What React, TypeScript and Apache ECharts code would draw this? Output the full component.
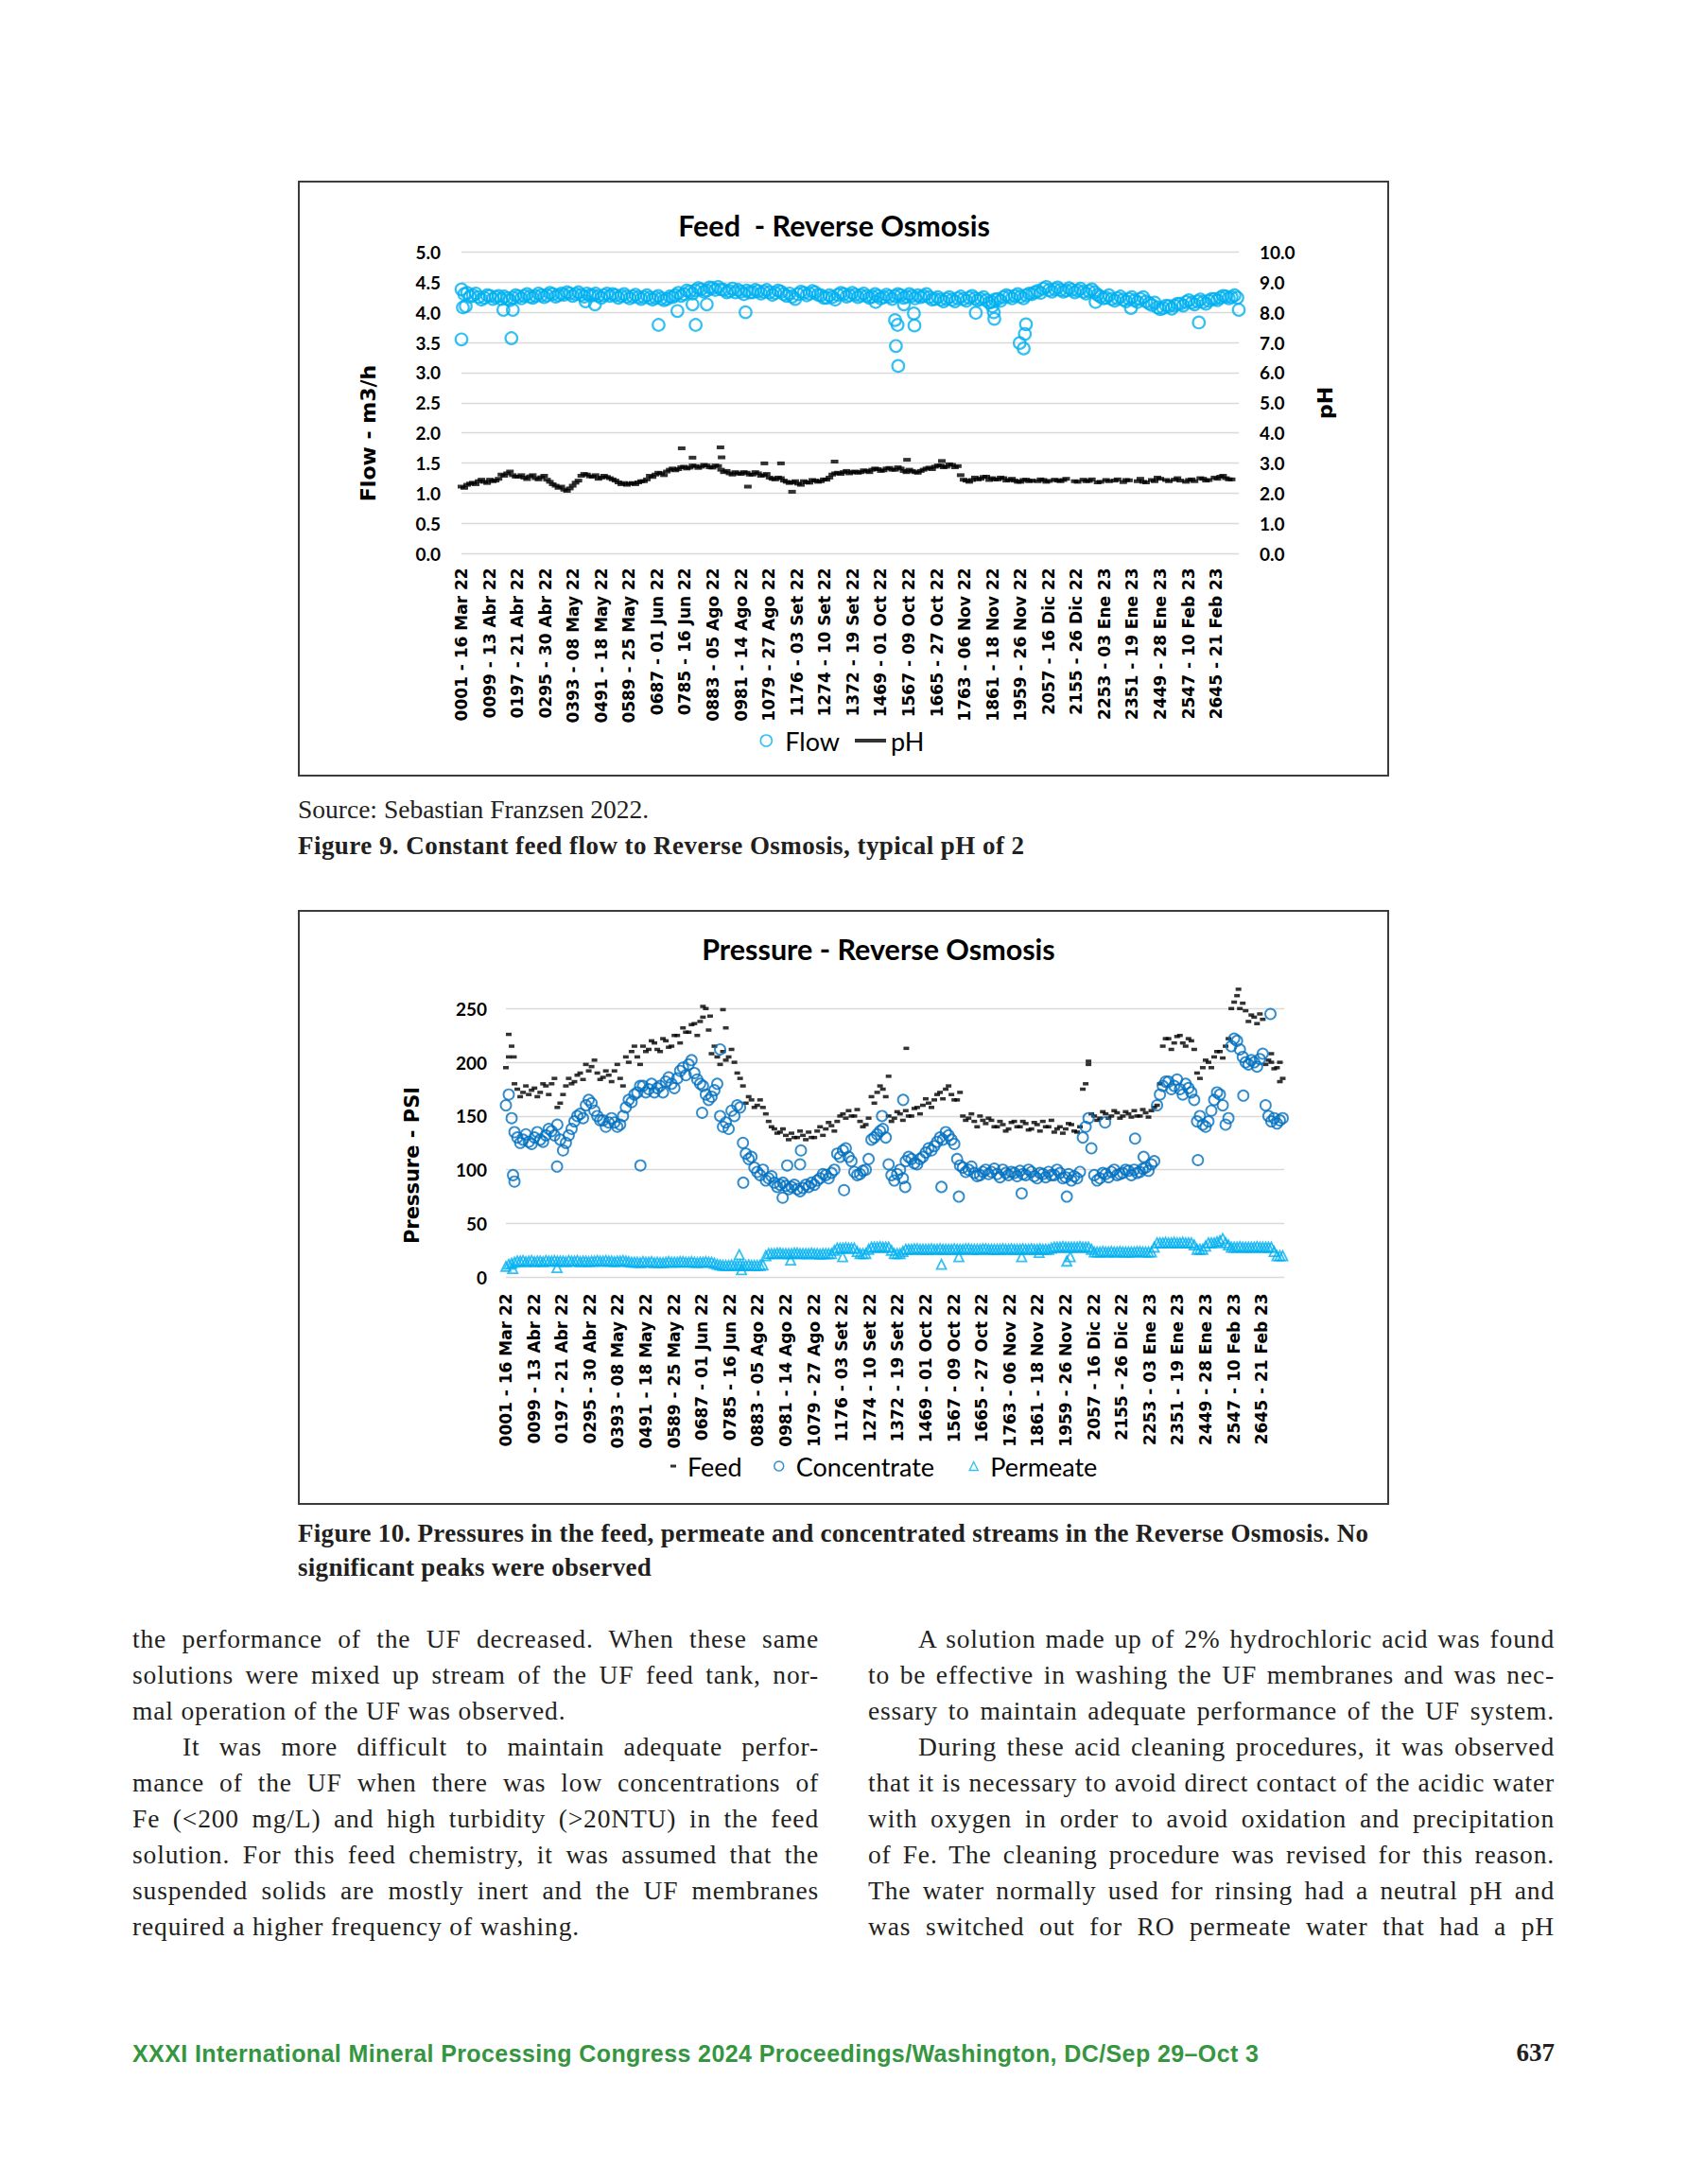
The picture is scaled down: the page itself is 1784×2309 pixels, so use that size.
import React, { useEffect, useRef } from 'react';
import * as echarts from 'echarts';

// ---------- DATA ----------
const X_LABELS = [
  '0001 - 16 Mar 22', '0099 - 13 Abr 22', '0197 - 21 Abr 22', '0295 - 30 Abr 22',
  '0393 - 08 May 22', '0491 - 18 May 22', '0589 - 25 May 22', '0687 - 01 Jun 22',
  '0785 - 16 Jun 22', '0883 - 05 Ago 22', '0981 - 14 Ago 22', '1079 - 27 Ago 22',
  '1176 - 03 Set 22', '1274 - 10 Set 22', '1372 - 19 Set 22', '1469 - 01 Oct 22',
  '1567 - 09 Oct 22', '1665 - 27 Oct 22', '1763 - 06 Nov 22', '1861 - 18 Nov 22',
  '1959 - 26 Nov 22', '2057 - 16 Dic 22', '2155 - 26 Dic 22', '2253 - 03 Ene 23',
  '2351 - 19 Ene 23', '2449 - 28 Ene 23', '2547 - 10 Feb 23', '2645 - 21 Feb 23',
];
const TICK = 98;     // records between labelled categories
const STEP = 20;     // records between sampled readings below
const XMAX = 2725;   // last record index

// Figure 9 – feed flow (m3/h): readings at records 0,20,40,... (A) and 10,30,50,... (B)
const flowA = [
  4.38, 4.32, 4.28, 4.25, 4.24, 4.27, 4.25, 4.22, 4.23, 4.24,
  4.26, 4.27, 4.26, 4.27, 4.28, 4.28, 4.30, 4.28, 4.29, 4.31,
  4.30, 4.29, 4.31, 4.28, 4.27, 4.28, 4.27, 4.28, 4.27, 4.26,
  4.26, 4.25, 4.25, 4.24, 4.24, 4.23, 4.22, 4.25, 4.32, 4.30,
  4.34, 4.36, 4.38, 4.36, 4.40, 4.42, 4.37, 4.35, 4.33, 4.34,
  4.36, 4.33, 4.35, 4.34, 4.33, 4.32, 4.34, 4.27, 4.26, 4.30,
  4.32, 4.31, 4.33, 4.28, 4.24, 4.25, 4.29, 4.30, 4.28, 4.29,
  4.28, 4.27, 4.26, 4.27, 4.25, 4.26, 4.27, 4.28, 4.26, 4.27,
  4.28, 4.27, 4.25, 4.22, 4.21, 4.22, 4.21, 4.23, 4.22, 4.24,
  4.23, 4.22, 4.20, 4.17, 4.22, 4.25, 4.26, 4.27, 4.26, 4.28,
  4.30, 4.35, 4.39, 4.37, 4.38, 4.37, 4.36, 4.37, 4.36, 4.34,
  4.35, 4.33, 4.26, 4.24, 4.22, 4.23, 4.21, 4.22, 4.20, 4.22,
  4.18, 4.12, 4.08, 4.07, 4.10, 4.11, 4.14, 4.17, 4.16, 4.18,
  4.17, 4.19, 4.22, 4.24, 4.26, 4.25, 4.24,
];
const flowB = [
  4.30, 4.26, 4.31, 4.21, 4.28, 4.22, 4.27, 4.26, 4.20, 4.28,
  4.23, 4.30, 4.24, 4.31, 4.25, 4.32, 4.26, 4.31, 4.33, 4.27,
  4.33, 4.26, 4.28, 4.31, 4.24, 4.31, 4.30, 4.24, 4.30, 4.23,
  4.29, 4.22, 4.28, 4.21, 4.27, 4.20, 4.26, 4.28, 4.27, 4.36,
  4.31, 4.40, 4.34, 4.41, 4.37, 4.38, 4.33, 4.39, 4.37, 4.30,
  4.33, 4.37, 4.31, 4.37, 4.29, 4.36, 4.30, 4.31, 4.22, 4.34,
  4.28, 4.35, 4.29, 4.24, 4.28, 4.21, 4.32, 4.26, 4.32, 4.25,
  4.31, 4.24, 4.30, 4.23, 4.29, 4.22, 4.30, 4.24, 4.30, 4.23,
  4.25, 4.30, 4.21, 4.25, 4.18, 4.25, 4.18, 4.26, 4.19, 4.27,
  4.20, 4.25, 4.16, 4.21, 4.19, 4.28, 4.23, 4.30, 4.23, 4.31,
  4.33, 4.32, 4.42, 4.34, 4.41, 4.34, 4.40, 4.33, 4.39, 4.31,
  4.38, 4.29, 4.23, 4.28, 4.19, 4.26, 4.18, 4.25, 4.17, 4.25,
  4.15, 4.16, 4.05, 4.11, 4.06, 4.14, 4.11, 4.20, 4.13, 4.21,
  4.14, 4.22, 4.20, 4.27, 4.23, 4.28, null,
];
// isolated flow readings [record, value]
const flowOutliers = [
  [0, 3.55], [5, 4.08], [15, 4.1], [147, 4.04], [175, 3.57], [180, 4.04], [435, 4.18],
  [468, 4.13], [691, 3.79], [757, 4.02], [810, 4.13], [821, 3.79], [860, 4.13], [996, 4.0],
  [1452, 4.17], [1520, 3.87], [1523, 3.44], [1529, 3.79], [1531, 3.11], [1551, 4.13],
  [1586, 3.98], [1588, 3.78], [1803, 3.99], [1861, 4.1], [1866, 4.0], [1868, 3.89],
  [1957, 3.49], [1971, 3.4], [1975, 3.64], [1979, 3.8], [2223, 4.17], [2347, 4.07],
  [2585, 3.83], [2725, 4.04],
];
// Figure 9 – pH (null = no reading)
const phA = [
  2.22, 2.28, 2.35, 2.40, 2.38, 2.45, 2.42, 2.62, 2.66, 2.60,
  2.55, 2.52, 2.56, 2.50, 2.53, 2.45, 2.30, 2.18, 2.12, 2.16,
  2.35, 2.58, 2.62, 2.55, 2.48, 2.58, 2.50, 2.42, 2.30, 2.28,
  2.34, 2.36, 2.40, 2.58, 2.62, 2.66, 2.72, 2.82, 2.80, 2.88,
  2.85, 2.90, 2.88, 2.92, 2.85, 2.90, 2.70, 2.66, 2.70, 2.64,
  2.68, 2.62, 2.66, 2.60, 2.52, 2.46, 2.50, 2.38, 2.36, 2.32,
  2.40, 2.35, 2.42, 2.40, 2.45, 2.62, 2.68, 2.70, 2.66, 2.72,
  2.70, 2.74, 2.78, 2.80, 2.76, 2.84, 2.78, 2.82, 2.70, 2.74,
  2.68, 2.78, 2.85, 2.88, 2.92, 2.88, 2.94, 2.90, 2.45, 2.38,
  2.52, 2.48, 2.55, 2.50, 2.46, 2.50, 2.44, 2.42, 2.38, 2.45,
  2.42, 2.40, 2.44, 2.41, 2.45, 2.40, 2.48, null, 2.38, 2.45,
  2.41, null, 2.38, 2.44, null, 2.46, 2.37, 2.43, null, 2.48,
  2.36, 2.44, 2.52, null, 2.40, 2.45, 2.42, 2.38, 2.46, null,
  2.48, 2.44, 2.52, 2.55, 2.50, 2.46, null,
];
const phB = [
  2.18, 2.32, 2.30, 2.45, 2.34, 2.40, 2.48, 2.58, 2.72, 2.55,
  2.60, 2.47, 2.60, 2.46, 2.58, 2.38, 2.25, 2.22, 2.08, 2.25,
  2.42, 2.64, 2.56, 2.60, 2.52, 2.54, 2.46, 2.36, 2.34, 2.32,
  2.30, 2.40, 2.46, 2.54, 2.68, 2.60, 2.78, 2.76, 2.86, 2.82,
  2.92, 2.84, 2.94, 2.86, 2.92, 2.78, 2.74, 2.62, 2.66, 2.70,
  2.62, 2.70, 2.58, 2.64, 2.48, 2.52, 2.42, 2.34, 2.40, 2.28,
  2.36, 2.44, 2.38, 2.46, 2.52, 2.66, 2.64, 2.74, 2.70, 2.68,
  2.76, 2.70, 2.82, 2.74, 2.82, 2.78, 2.86, 2.74, 2.78, 2.70,
  2.74, 2.82, 2.80, 2.92, 2.86, 2.96, 2.86, 2.60, 2.42, 2.44,
  2.46, 2.54, 2.44, 2.46, 2.52, 2.42, 2.48, 2.38, 2.44, 2.40,
  null, 2.46, 2.38, null, 2.42, 2.44, null, 2.40, null, 2.40,
  2.46, 2.36, null, 2.40, 2.42, null, 2.44, null, 2.40, 2.38,
  null, 2.40, 2.48, 2.44, null, 2.50, null, 2.44, 2.40, 2.50,
  2.42, null, 2.48, 2.58, 2.46, null, null,
];
const phOutliers = [
  [772, 3.49], [810, 3.18], [908, 3.52], [912, 3.19], [1004, 2.22], [1062, 2.99],
  [1120, 2.99], [1159, 2.05], [1308, 3.05], [1562, 3.11], [1684, 3.07],
];

// Figure 10 – pressures (PSI)
const feedA = [
  195, 215, 175, 172, 170, 176, 172, 178, 180, 158,
  170, 185, 182, 190, 198, 196, 190, 186, 188, 192,
  185, 205, 210, 205, 215, 212, 218, 210, 220, 215,
  225, 232, 228, 236, 238, 250, 208, 205, 210, 205,
  200, 185, 162, 165, 160, 158, 145, 138, 135, 132,
  134, 130, 132, 135, 130, 140, 138, 141, 145, 152,
  155, 150, 145, 142, 168, 172, 175, 150, 148, 152,
  155, 150, 158, 160, 162, 165, 172, 175, 170, 165,
  150, 148, 145, 150, 143, 146, 140, 142, 138, 145,
  140, 143, 138, 142, 145, 140, 135, 140, 138, 142,
  135, 175, 198, 150, 148, 152, 150, 153, 150, 152,
  155, 150, 153, 155, 160, 215, 222, 218, 225, 215,
  220, 190, 195, 200, 205, 210, 215, 250, 262, 255,
  238, 242, 245, 198, 200, 195, 185,
];
const feedB = [
  205, 180, 168, 178, 174, 168, 180, 170, 185, 162,
  178, 180, 188, 184, 192, 202, 184, 192, 182, 198,
  178, 200, 215, 198, 210, 220, 212, 222, 214, 225,
  218, 228, 235, 225, 242, 230, 215, 198, 202, 212,
  190, 178, 168, 158, 165, 152, 140, 134, 138, 128,
  130, 136, 128, 130, 136, 132, 144, 136, 150, 148,
  150, 156, 140, 148, 162, 178, 168, 145, 154, 146,
  150, 157, 152, 166, 158, 170, 166, 178, 165, 172,
  146, 152, 140, 146, 148, 140, 145, 136, 144, 140,
  145, 137, 144, 136, 140, 146, 138, 134, 143, 136,
  140, 180, 152, 146, 154, 148, 155, 148, 154, 149,
  150, 156, 149, 158, 180, 222, 212, 224, 218, 222,
  212, 185, 202, 195, 210, 204, 222, 256, 250, 248,
  244, 236, 240, 202, 194, 200, 180,
];
const feedOutliers = [
  [10, 226], [28, 205], [690, 252], [715, 243], [760, 249], [770, 232], [1340, 187],
  [1402, 213], [2040, 201], [2565, 268], [2680, 208], [2710, 182],
];
const concA = [
  160, 148, 130, 128, 126, 130, 128, 132, 136, 142,
  118, 132, 145, 152, 160, 162, 150, 146, 144, 144,
  142, 158, 163, 172, 178, 175, 172, 178, 182, 180,
  185, 195, 198, 190, 180, 170, 168, 180, 140, 138,
  150, 158, 115, 112, 98, 100, 92, 88, 86, 85,
  84, 82, 83, 84, 86, 92, 95, 97, 115, 118,
  112, 98, 96, 100, 128, 133, 138, 105, 90, 100,
  108, 110, 105, 112, 120, 122, 130, 135, 128, 110,
  102, 100, 97, 95, 100, 98, 96, 100, 95, 97,
  99, 95, 98, 92, 96, 98, 95, 97, 93, 90,
  92, 130, 148, 95, 92, 96, 98, 95, 97, 99,
  100, 98, 102, 105, 160, 178, 182, 178, 175, 180,
  172, 145, 142, 145, 165, 170, 142, 215, 220, 205,
  198, 200, 203, 160, 145, 143, 148,
];
const concB = [
  170, 135, 125, 133, 124, 135, 126, 138, 132, 128,
  125, 138, 150, 148, 165, 155, 146, 140, 148, 140,
  150, 165, 170, 178, 172, 180, 176, 172, 186, 176,
  192, 188, 202, 184, 178, 165, 174, 150, 144, 155,
  160, 125, 110, 102, 95, 90, 94, 84, 88, 82,
  86, 80, 86, 88, 90, 96, 92, 100, 112, 120,
  108, 95, 99, 110, 130, 136, 130, 95, 96, 92,
  112, 106, 110, 116, 118, 126, 128, 132, 124, 104,
  98, 103, 94, 98, 96, 101, 93, 97, 98, 94,
  96, 100, 94, 97, 93, 95, 100, 92, 96, 94,
  98, 140, 120, 90, 97, 93, 100, 96, 100, 95,
  97, 101, 99, 108, 170, 182, 175, 184, 170, 176,
  165, 150, 140, 155, 172, 160, 148, 222, 212, 200,
  202, 196, 208, 150, 148, 146, null,
];
const concOutliers = [
  [25, 95], [30, 89], [179, 103], [471, 104], [687, 153], [750, 212], [831, 88],
  [969, 74], [985, 104], [1030, 105], [1033, 118], [1184, 81], [1317, 150], [1391, 165],
  [1398, 84], [1525, 84], [1586, 75], [1806, 78], [1964, 75], [2098, 144], [2203, 129],
  [2233, 112], [2423, 109], [2582, 169], [2677, 245],
];
const permA = [
  10, 13, 15, 15.5, 15, 14.5, 15, 15.5, 15, 15,
  15, 15.5, 15, 14.5, 15, 15, 15.5, 15, 15, 14.5,
  15, 15, 14, 14, 14.5, 14, 13.5, 13.5, 14, 14,
  14, 14.5, 14, 14, 14, 14.5, 14, 12, 11, 11,
  11, 11.5, 11, 11, 11, 11.5, 22, 22, 22.5, 22,
  22, 22.5, 22, 22, 22, 21.5, 22, 22, 27, 27,
  27, 27, 22, 22, 28, 28, 28, 28, 22, 22,
  26, 26, 26.5, 26, 26, 26, 26.5, 26, 26, 26,
  26, 26.5, 26, 26, 26.5, 26, 26, 26.5, 26, 26,
  26, 26, 26.5, 26, 26, 26, 28, 28, 28, 28,
  28, 28, 28, 23.5, 23.5, 23.5, 24, 23.5, 23.5, 23.5,
  23.5, 24, 23.5, 23.5, 32, 32, 32, 32.5, 32, 32,
  32, 26, 26, 32, 32, 34, 32, 28, 28, 28,
  28, 28, 28, 28, 28, 20, 20,
];
const permB = [
  12, 14, 15, 14.5, 15.5, 15, 14.5, 15, 15.5, 15,
  14.5, 15, 15.5, 15, 14.5, 15, 15, 15.5, 15, 15,
  15.5, 14.5, 14, 13.5, 14, 14.5, 14, 13.5, 14.5, 14,
  14.5, 14, 14.5, 13.5, 14, 14, 13, 11.5, 11, 11.5,
  11, 11, 11.5, 11, 11, 20, 22, 22.5, 22, 22,
  22.5, 22, 22, 22.5, 22, 22, 22, 25, 27, 27.5,
  27, 24, 22, 26, 28, 28.5, 28, 25, 22, 24,
  26, 26.5, 26, 26, 26.5, 26, 26, 26, 26.5, 26,
  26.5, 26, 26, 26.5, 26, 26, 26, 26, 26.5, 26,
  26.5, 26, 26, 26.5, 26, 27, 28, 28.5, 28, 28,
  28.5, 28, 26, 23.5, 24, 23.5, 23.5, 24, 23.5, 23.5,
  24, 23.5, 23.5, 28, 32, 32.5, 32, 32, 32.5, 32,
  30, 26, 29, 32, 33, 36, 30, 28, 28.5, 28,
  28, 28.5, 28, 28, 24, 20, null,
];
const permOutliers = [
  [24, 8], [179, 9], [817, 21], [825, 7], [997, 16], [1179, 19], [1525, 12], [1586, 19],
  [1806, 19], [1867, 23], [1964, 15], [1976, 19],
];

// ---------- helpers ----------
const toPairs = (arr: (number | null)[], offset: number) =>
  arr
    .map((v, k) => (v == null ? null : [k * STEP + offset, v]))
    .filter((p) => p !== null && (p as number[])[0] <= XMAX) as number[][];
const allPoints = (a: (number | null)[], b: (number | null)[], extra: number[][]) => [
  ...toPairs(a, 0),
  ...toPairs(b, STEP / 2),
  ...extra,
];

const LATO = 'Lato, "Open Sans", sans-serif';
const DEJA = '"DejaVu Sans", Verdana, sans-serif';
const GRID_COLOR = '#d9d9d9';

function xAxisCfg(margin: number) {
  return {
    type: 'value',
    min: 0,
    max: XMAX,
    interval: TICK,
    axisLine: { show: false },
    axisTick: { show: false },
    splitLine: { show: false },
    axisLabel: {
      rotate: 90,
      margin,
      fontFamily: DEJA,
      fontWeight: 'bold',
      fontSize: 17,
      color: '#000',
      showMaxLabel: false,
      formatter: (v: number) => {
        const k = Math.round(v / TICK);
        return Math.abs(v - k * TICK) < 1e-6 && k < X_LABELS.length ? X_LABELS[k] : '';
      },
    },
  };
}

function yLabel(margin: number, digits: number) {
  return {
    fontFamily: LATO,
    fontWeight: 'bold',
    fontSize: 19,
    color: '#000',
    margin,
    formatter: (v: number) => v.toFixed(digits),
  };
}

function gText(x: number, y: number, text: string, font: string, size: number, weight: string, rotation = 0) {
  return {
    type: 'text',
    x,
    y,
    rotation,
    silent: true,
    style: {
      text,
      fontFamily: font,
      fontSize: size,
      fontWeight: weight,
      fill: '#000',
      align: 'center',
      textAlign: 'center',
      verticalAlign: 'middle',
      textVerticalAlign: 'middle',
    },
  };
}

const legendText = (padLeft: number) => ({
  fontFamily: LATO,
  fontSize: 27,
  color: '#000',
  lineHeight: 27,
  padding: [0, 0, 0, padLeft],
});

const option1 = {
  animation: false,
  backgroundColor: '#fff',
  grid: { left: 173, right: 159, top: 75.3, bottom: 235.7 },
  xAxis: xAxisCfg(15),
  yAxis: [
    {
      type: 'value', min: 0, max: 5, interval: 0.5,
      axisLine: { show: false }, axisTick: { show: false },
      splitLine: { lineStyle: { color: GRID_COLOR, width: 1.3 } },
      axisLabel: yLabel(22, 1),
    },
    {
      type: 'value', min: 0, max: 10, interval: 1, position: 'right',
      axisLine: { show: false }, axisTick: { show: false },
      splitLine: { show: false },
      axisLabel: yLabel(22, 1),
    },
  ],
  legend: [
    {
      left: 488.5, top: 578.5, padding: 0, selectedMode: false,
      itemWidth: 12, itemHeight: 12,
      data: [{ name: 'Flow', icon: 'circle', itemStyle: { color: 'rgba(0,0,0,0)', borderColor: '#00B0F0', borderWidth: 1.6 } }],
      textStyle: legendText(9),
    },
    {
      left: 589, top: 578.5, padding: 0, selectedMode: false,
      itemWidth: 33, itemHeight: 4,
      data: [{ name: 'pH', icon: 'rect', itemStyle: { color: '#000', borderWidth: 0 } }],
      textStyle: legendText(0),
    },
  ],
  series: [
    {
      name: 'Flow', type: 'scatter', clip: false,
      symbol: 'circle', symbolSize: 12.5,
      itemStyle: { color: 'rgba(0,0,0,0)', borderColor: '#00B0F0', borderWidth: 2.2 },
      data: allPoints(flowA, flowB, flowOutliers),
    },
    {
      name: 'pH', type: 'scatter', yAxisIndex: 1, clip: false,
      symbol: 'rect', symbolSize: [8, 4],
      itemStyle: { color: '#000' },
      data: allPoints(phA, phB, phOutliers),
    },
  ],
  graphic: [
    gText(567, 46.7, 'Feed  - Reverse Osmosis', LATO, 30.5, 'bold'),
    gText(74, 267, 'Flow - m3/h', DEJA, 22, 'bold', Math.PI / 2),
    gText(1086, 235, 'pH', DEJA, 22, 'bold', Math.PI / 2),
  ],
};

const option2 = {
  animation: false,
  backgroundColor: '#fff',
  grid: { left: 220, right: 111, top: 104.3, bottom: 240.7 },
  xAxis: xAxisCfg(17),
  yAxis: {
    type: 'value', min: 0, max: 250, interval: 50,
    axisLine: { show: false }, axisTick: { show: false },
    splitLine: { lineStyle: { color: GRID_COLOR, width: 1.3 } },
    axisLabel: yLabel(20, 0),
  },
  legend: [
    {
      left: 394, top: 574.5, padding: 0, selectedMode: false,
      itemWidth: 6, itemHeight: 3,
      data: [{ name: 'Feed', icon: 'rect', itemStyle: { color: '#000', borderWidth: 0 } }],
      textStyle: legendText(7),
    },
    {
      left: 503, top: 574.5, padding: 0, selectedMode: false,
      itemWidth: 10, itemHeight: 10,
      data: [{ name: 'Concentrate', icon: 'circle', itemStyle: { color: 'rgba(0,0,0,0)', borderColor: '#0070C0', borderWidth: 1.5 } }],
      textStyle: legendText(8),
    },
    {
      left: 709.5, top: 574.5, padding: 0, selectedMode: false,
      itemWidth: 9, itemHeight: 9,
      data: [{ name: 'Permeate', icon: 'triangle', itemStyle: { color: 'rgba(0,0,0,0)', borderColor: '#00B0F0', borderWidth: 1.4 } }],
      textStyle: legendText(8),
    },
  ],
  series: [
    {
      name: 'Feed', type: 'scatter', clip: false,
      symbol: 'rect', symbolSize: [6, 3.5],
      itemStyle: { color: '#000' },
      data: allPoints(feedA, feedB, feedOutliers),
    },
    {
      name: 'Concentrate', type: 'scatter', clip: false,
      symbol: 'circle', symbolSize: 11,
      itemStyle: { color: 'rgba(0,0,0,0)', borderColor: '#0070C0', borderWidth: 1.9 },
      data: allPoints(concA, concB, concOutliers),
    },
    {
      name: 'Permeate', type: 'scatter', clip: false,
      symbol: 'triangle', symbolSize: 10,
      itemStyle: { color: 'rgba(0,0,0,0)', borderColor: '#00B0F0', borderWidth: 1.8 },
      data: allPoints(permA, permB, permOutliers),
    },
  ],
  graphic: [
    gText(614, 40.7, 'Pressure - Reverse Osmosis', LATO, 30.5, 'bold'),
    gText(121, 270, 'Pressure - PSI', DEJA, 21, 'bold', Math.PI / 2),
  ],
};

// ---------- components ----------
function Chart({ option, left, top, width, height }: any) {
  const ref = useRef<HTMLDivElement>(null);
  useEffect(() => {
    const chart = echarts.init(ref.current as HTMLDivElement, null, { renderer: 'svg' });
    chart.setOption(option as any);
    return () => chart.dispose();
  }, [option]);
  return (
    <>
      <div ref={ref} style={{ position: 'absolute', left, top, width, height }} />
      <div
        style={{
          position: 'absolute', left, top, width, height, boxSizing: 'border-box',
          border: '2px solid #3c3c3c', pointerEvents: 'none',
        }}
      />
    </>
  );
}

const SERIF = '"Liberation Serif", "Times New Roman", serif';

type Line = { t: string; j?: boolean; i?: boolean };
const leftCol: Line[] = [
  { t: 'the performance of the UF decreased. When these same', j: true },
  { t: 'solutions were mixed up stream of the UF feed tank, nor-', j: true },
  { t: 'mal operation of the UF was observed.' },
  { t: 'It was more difficult to maintain adequate perfor-', j: true, i: true },
  { t: 'mance of the UF when there was low concentrations of', j: true },
  { t: 'Fe (<200 mg/L) and high turbidity (>20NTU) in the feed', j: true },
  { t: 'solution. For this feed chemistry, it was assumed that the', j: true },
  { t: 'suspended solids are mostly inert and the UF membranes', j: true },
  { t: 'required a higher frequency of washing.' },
];
const rightCol: Line[] = [
  { t: 'A solution made up of 2% hydrochloric acid was found', j: true, i: true },
  { t: 'to be effective in washing the UF membranes and was nec-', j: true },
  { t: 'essary to maintain adequate performance of the UF system.', j: true },
  { t: 'During these acid cleaning procedures, it was observed', j: true, i: true },
  { t: 'that it is necessary to avoid direct contact of the acidic water', j: true },
  { t: 'with oxygen in order to avoid oxidation and precipitation', j: true },
  { t: 'of Fe. The cleaning procedure was revised for this reason.', j: true },
  { t: 'The water normally used for rinsing had a neutral pH and', j: true },
  { t: 'was switched out for RO permeate water that had a pH', j: true },
];

function Column({ lines, left }: { lines: Line[]; left: number }) {
  return (
    <div style={{ position: 'absolute', left, top: 1714, width: 726, fontFamily: SERIF, fontSize: 27.5, letterSpacing: '0.85px', lineHeight: '38px', color: '#231f20' }}>
      {lines.map((l, k) => (
        <div
          key={k}
          style={{
            textAlign: l.j ? 'justify' : 'left',
            textAlignLast: l.j ? 'justify' : 'left',
            textIndent: l.i ? 53 : 0,
            whiteSpace: 'nowrap',
            height: 38,
          } as any}
        >
          {l.t}
        </div>
      ))}
    </div>
  );
}

export default function App() {
  return (
    <div style={{ position: 'absolute', left: 0, top: 0, width: 1784, height: 2309, background: '#fff', overflow: 'hidden' }}>
      <Chart option={option1} left={315} top={191} width={1154} height={630} />
      <div style={{ position: 'absolute', left: 315, top: 837, fontFamily: SERIF, fontSize: 27.5, lineHeight: '38px', color: '#231f20', whiteSpace: 'nowrap' }}>
        Source: Sebastian Franzsen 2022.
      </div>
      <div style={{ position: 'absolute', left: 315, top: 875, fontFamily: SERIF, fontSize: 27, letterSpacing: '0.45px', fontWeight: 'bold', lineHeight: '38px', color: '#231f20', whiteSpace: 'nowrap' }}>
        Figure 9. Constant feed flow to Reverse Osmosis, typical pH of 2
      </div>
      <Chart option={option2} left={315} top={962} width={1154} height={629} />
      <div style={{ position: 'absolute', left: 315, top: 1604, fontFamily: SERIF, fontSize: 27, letterSpacing: '0.3px', fontWeight: 'bold', lineHeight: '35.5px', color: '#231f20', whiteSpace: 'nowrap' }}>
        Figure 10. Pressures in the feed, permeate and concentrated streams in the Reverse Osmosis. No
        <br />
        significant peaks were observed
      </div>
      <Column lines={leftCol} left={140} />
      <Column lines={rightCol} left={918} />
      <div style={{ position: 'absolute', left: 140, top: 2159, fontFamily: '"Liberation Sans", Arial, sans-serif', fontWeight: 'bold', fontSize: 25, letterSpacing: '0.4px', lineHeight: '25px', color: '#35963f', whiteSpace: 'nowrap' }}>
        XXXI International Mineral Processing Congress 2024 Proceedings/Washington, DC/Sep 29–Oct 3
      </div>
      <div style={{ position: 'absolute', right: 1784 - 1644, top: 2155, fontFamily: SERIF, fontWeight: 'bold', fontSize: 27, lineHeight: '30px', color: '#231f20', whiteSpace: 'nowrap' }}>
        637
      </div>
    </div>
  );
}
